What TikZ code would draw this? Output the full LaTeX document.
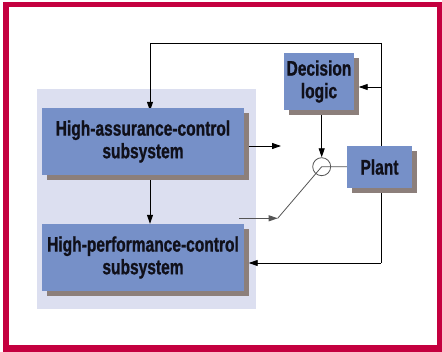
\documentclass[tikz,border=0pt]{standalone}
\usepackage{fontspec}
\newfontfamily\cond{Liberation Sans}[FakeStretch=0.74,FakeBold=1]
\usetikzlibrary{arrows.meta,shadows}
\definecolor{framered}{HTML}{C4003F}
\definecolor{panel}{HTML}{DCDFF0}
\definecolor{boxblue}{HTML}{7690C8}
\definecolor{shadowc}{HTML}{8C7F7B}
\definecolor{swgray}{HTML}{555555}
\definecolor{txt}{HTML}{10101A}
\pgfdeclarelayer{bg}
\pgfdeclarelayer{lines}
\pgfsetlayers{bg,lines,main}
\tikzset{
  blk/.style={fill=boxblue, inner sep=0pt, align=center, text=txt,
    font=\cond\bfseries\fontsize{21}{22.6}\selectfont,
    drop shadow={shadow xshift=4.5pt, shadow yshift=-5pt, fill=shadowc, opacity=1}},
  arr/.style={draw=black, line width=0.9pt, -{Triangle[length=9pt,width=6pt]}},
  ln/.style={draw=black, line width=0.9pt},
  sw/.style={draw=swgray, line width=0.8pt}
}
\begin{document}
\begin{tikzpicture}[x=1pt,y=-1pt]
\useasboundingbox (0,0) rectangle (442,352);
\begin{pgfonlayer}{bg}
  \fill[framered] (3.3,1.7) rectangle (442,352);
  \fill[white] (9.3,6.7) rectangle (437,345.3);
  \fill[panel] (37,89) rectangle (256,309);
\end{pgfonlayer}

\node[blk, minimum width=202pt, minimum height=67pt] (ha) at (143,141.5)
  {High-assurance-control\\subsystem};
\node[blk, minimum width=202pt, minimum height=67pt] (hp) at (143,257.5)
  {High-performance-control\\subsystem};
\node[blk, minimum width=70pt, minimum height=57pt] (dl) at (319,81.5)
  {Decision\\logic};
\node[blk, minimum width=65pt, minimum height=42pt] (plant) at (379.5,167)
  {Plant};
\node[circle, draw=swgray, line width=0.8pt, minimum size=18pt, inner sep=0pt] (circ) at (321.7,166.7) {};

\coordinate (tr) at (381,43);
\coordinate (tl) at (150,43);
\coordinate (br) at (381,263);
\coordinate (fbdl) at (381,87);
\coordinate (haend) at (281,146);
\coordinate (hpstart) at (239,218.3);
\coordinate (swpt) at (277.7,218.3);

\begin{pgfonlayer}{lines}
  \draw[ln] (tr) -- (br);
  \draw[arr] (tr) -- (tl) -- ([yshift=-3pt]ha.north -| tl);
  \draw[arr] (fbdl) -- ([xshift=4.5pt]dl.east |- fbdl);
  \draw[arr] (br) -- ([xshift=4.5pt]hp.east |- br);
  \draw[arr] (dl.south -| circ) -- (circ.north);
  \draw[arr] (ha.east |- haend) -- (haend);
  \draw[arr] (ha.south -| tl) -- (hp.north -| tl);
  \draw[arr, draw=swgray] (hpstart) -- (swpt);
  \draw[sw] (swpt) -- (circ.center) -- (plant.west |- circ.center);
\end{pgfonlayer}
\end{tikzpicture}
\end{document}
